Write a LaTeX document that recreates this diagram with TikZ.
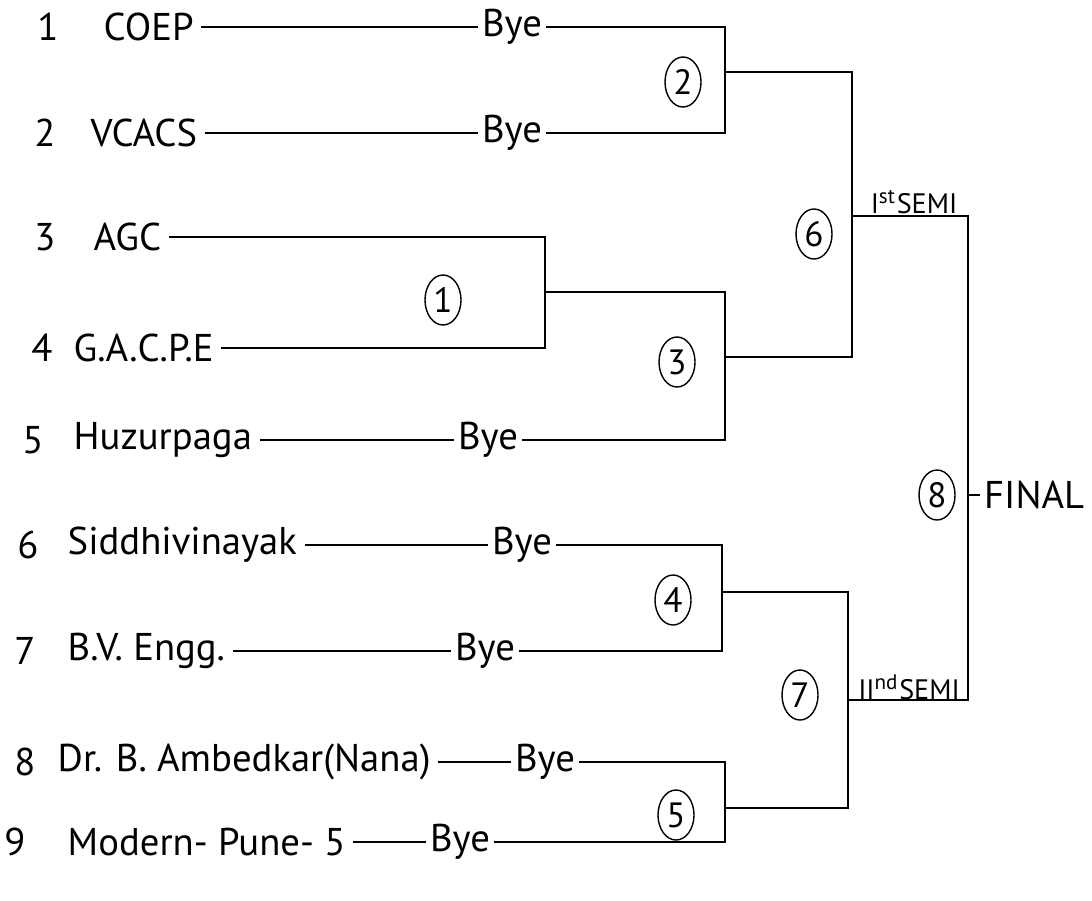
\documentclass[tikz,border=0pt]{standalone}
\usepackage{fontspec}
\setmainfont{PT Sans}
\usetikzlibrary{shapes.geometric}

\tikzset{
  team/.style={anchor=west, inner sep=2pt, font=\fontsize{11}{13}\selectfont},
  num/.style={inner sep=1pt, font=\fontsize{11}{13}\selectfont},
  bye/.style={inner sep=1pt, font=\fontsize{11}{13}\selectfont},
  match/.style={draw, ellipse, minimum width=0.36cm, minimum height=0.5cm,
    inner sep=0pt, font=\fontsize{10}{12}\selectfont},
  semi/.style={inner sep=1pt, font=\fontsize{8}{9}\selectfont},
  wire/.style={line width=0.6pt}
}

\begin{document}
\begin{tikzpicture}[x=0.01cm, y=-0.01cm]
\useasboundingbox (0,0) rectangle (1092,900);

\node[num] (k1) at (48,27) {1};
\node[num] (k2) at (45,133) {2};
\node[num] (k3) at (45,237) {3};
\node[num] (k4) at (42,348) {4};
\node[num] (k5) at (33,440) {5};
\node[num] (k6) at (28,545) {6};
\node[num] (k7) at (25,651) {7};
\node[num] (k8) at (25,762) {8};
\node[num] (k9) at (15,842) {9};

\node[team] (t1) at (96,27) {COEP};
\node[team] (t2) at (83,133) {VCACS};
\node[team] (t3) at (86,237) {AGC};
\node[team] (t4) at (66,348) {G.A.C.P.E};
\node[team] (t5) at (66,440) {Huzurpaga};
\node[team] (t6) at (60,545) {Siddhivinayak};
\node[team] (t7) at (60,651) {B.V. Engg.};
\node[team] (t8) at (50,762) {Dr. B. Ambedkar(Nana)};
\node[team] (t9) at (60,842) {Modern- Pune- 5};

\node[bye] (y1) at (512,27) {Bye};
\node[bye] (y2) at (512,133) {Bye};
\node[bye] (y5) at (488,440) {Bye};
\node[bye] (y6) at (522,545) {Bye};
\node[bye] (y7) at (485,651) {Bye};
\node[bye] (y8) at (545,762) {Bye};
\node[bye] (y9) at (460,842) {Bye};

\coordinate (j1) at (545,292);
\coordinate (j2) at (725,72);
\coordinate (j3) at (725,357);
\coordinate (j4) at (722,592);
\coordinate (j5) at (725,808);
\coordinate (j6) at (852,216);
\coordinate (j7) at (848,700);
\coordinate (j8) at (968,495);

\node[match] (m1) at (443,300) {1};
\node[match] (m2) at (683,82) {2};
\node[match] (m3) at (677,362) {3};
\node[match] (m4) at (673,600) {4};
\node[match] (m5) at (676,815) {5};
\node[match] (m6) at (814,234) {6};
\node[match] (m7) at (800,695) {7};
\node[match] (m8) at (937,495) {8};

\node[semi] (s1) at (914,202) {I\textsuperscript{st}SEMI};
\node[semi] (s2) at (909,687) {II\textsuperscript{nd}SEMI};
\node[team, inner sep=1pt] (fin) at (980,495) {FINAL};

% first round
\draw[wire] (t1) -- (y1);
\draw[wire] (t2) -- (y2);
\draw[wire] (y1) -| (j2) |- (y2);
\draw[wire] (t3) -| (j1) |- (t4);
\draw[wire] (t5) -- (y5);
\draw[wire] (j1) -| (j3) |- (y5);
\draw[wire] (t6) -- (y6);
\draw[wire] (t7) -- (y7);
\draw[wire] (y6) -| (j4) |- (y7);
\draw[wire] (t8) -- (y8);
\draw[wire] (t9) -- (y9);
\draw[wire] (y8) -| (j5) |- (y9);

% semis and final
\draw[wire] (j2) -| (j6) |- (j3);
\draw[wire] (j4) -| (j7) |- (j5);
\draw[wire] (j6) -| (j8) |- (j7);
\draw[wire] (j8) -- (fin);
\end{tikzpicture}
\end{document}
